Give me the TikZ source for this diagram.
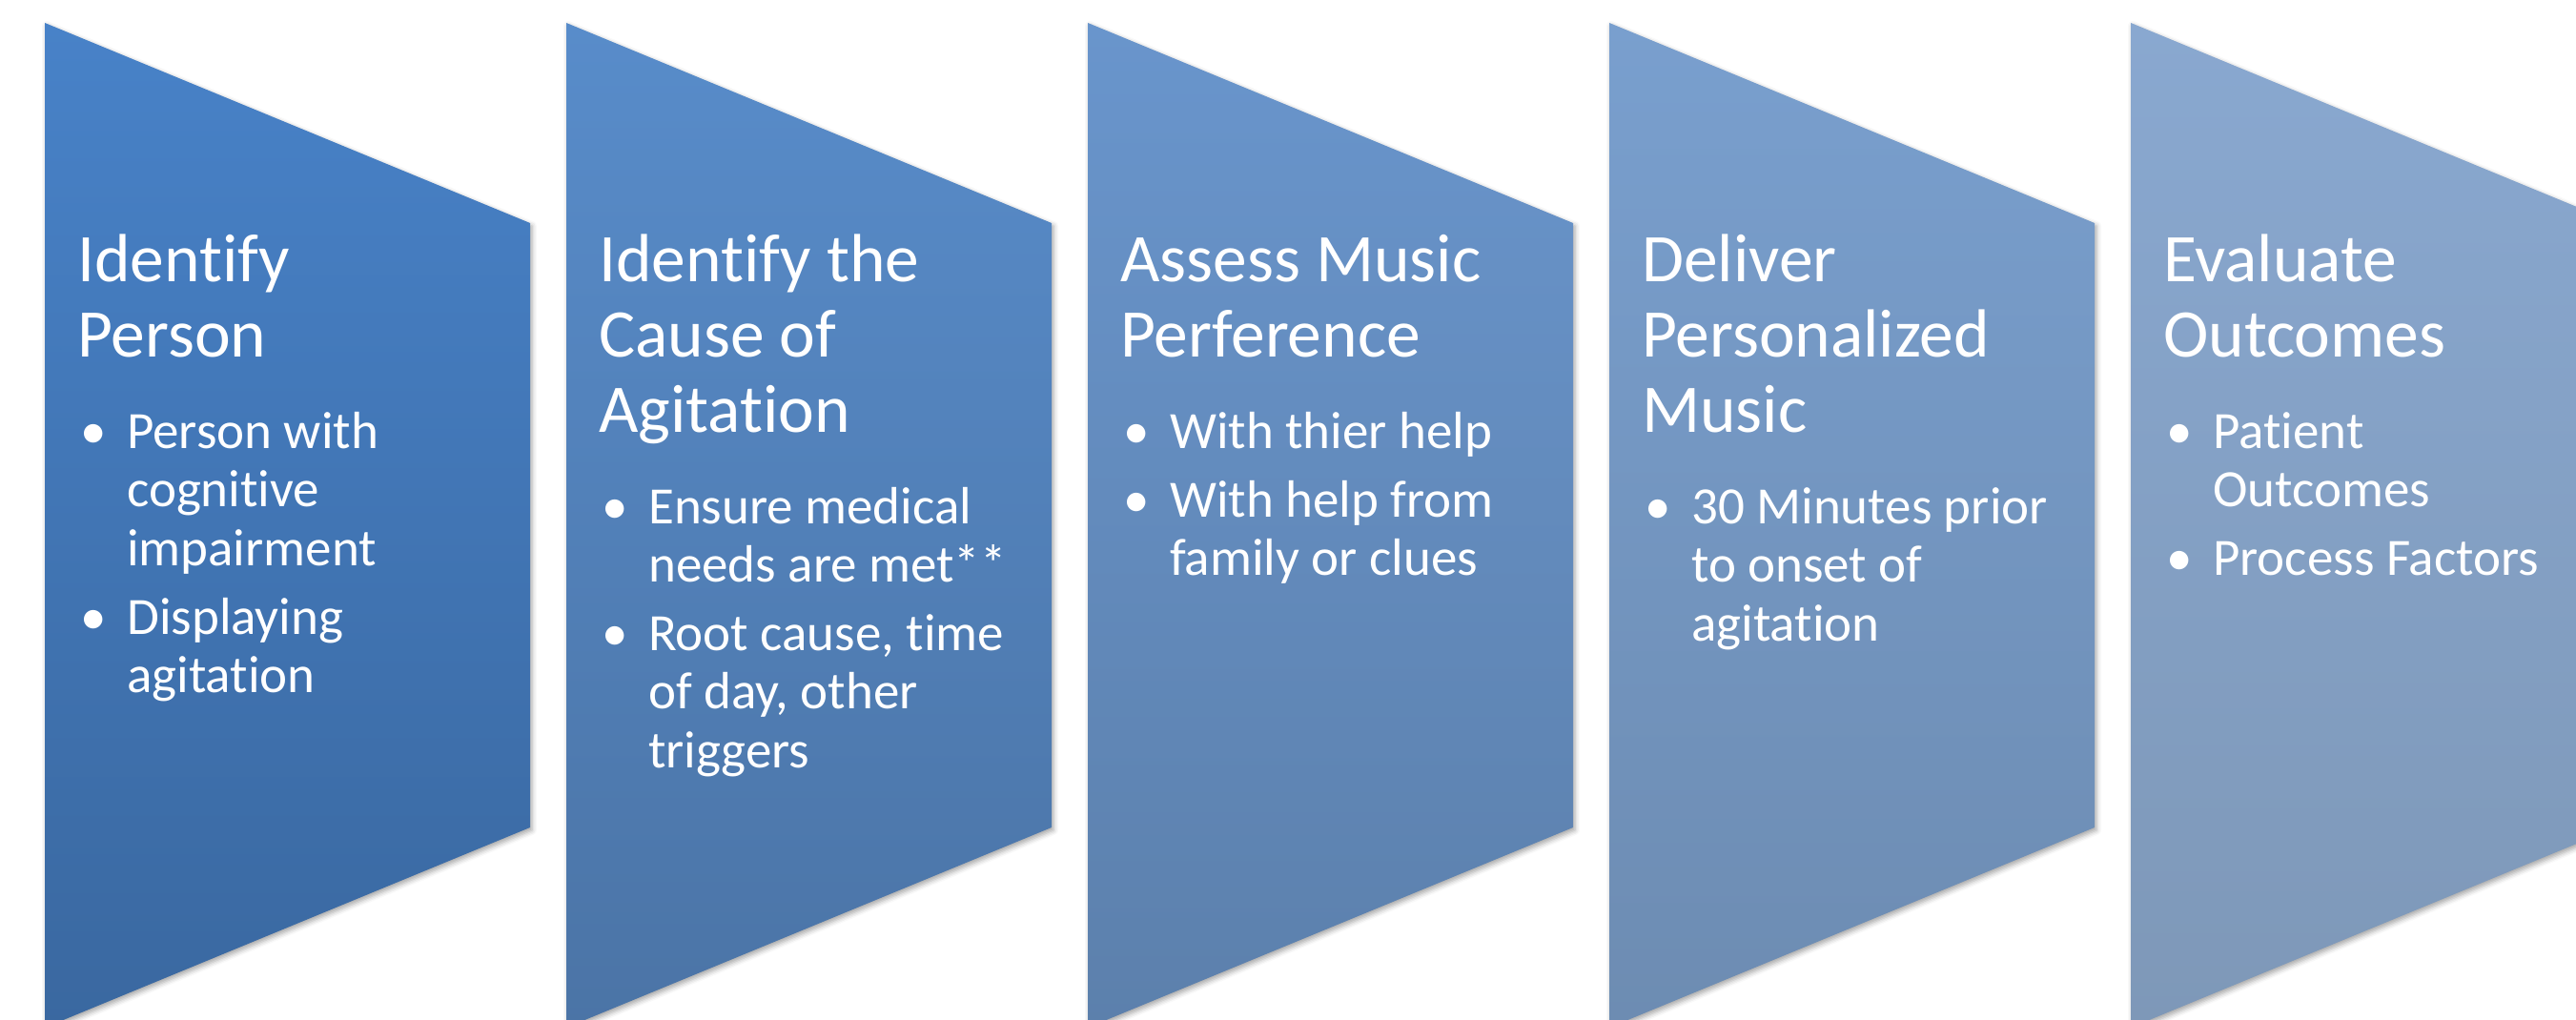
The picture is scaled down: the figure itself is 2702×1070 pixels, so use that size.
\documentclass[tikz,border=0pt]{standalone}
\usepackage{fontspec}
\setmainfont{Carlito}[Ligatures=NoCommon]
\usetikzlibrary{shadows.blur}

% stage colours, darker at the bottom of each chevron
\definecolor{s1top}{RGB}{72,130,200}   \definecolor{s1bot}{RGB}{58,104,160}
\definecolor{s2top}{RGB}{88,140,202}   \definecolor{s2bot}{RGB}{75,116,166}
\definecolor{s3top}{RGB}{105,149,204}  \definecolor{s3bot}{RGB}{92,128,172}
\definecolor{s4top}{RGB}{121,159,206}  \definecolor{s4bot}{RGB}{109,140,178}
\definecolor{s5top}{RGB}{137,168,208}  \definecolor{s5bot}{RGB}{126,152,184}

% one line of a stacked text block; the block's baseline is its first line
\newcommand\lin[1]{\hbox{#1}}

\begin{document}
\begin{tikzpicture}[x=1pt,y=-1pt,
  stagebox/.style={blur shadow={shadow xshift=2pt,shadow yshift=-3pt,
      shadow blur radius=5pt,shadow opacity=35}},
  titletext/.style={anchor=base west,inner sep=0pt,text=white,
      font=\fontsize{71.5}{79}\selectfont},
  itemtext/.style={anchor=base west,inner sep=0pt,text=white,
      font=\fontsize{55}{61.5}\selectfont},
  bulletmark/.style={anchor=base west,inner sep=0pt,text=white,
      font=\fontsize{55}{61.5}\selectfont}]

\useasboundingbox (0,0) rectangle (2702,1070);
\clip (0,0) rectangle (2702,1070);

% chevron shape with its left edge at x = #1
\newcommand\stageshape[3]{%
  \path[stagebox,top color=#2,bottom color=#3]
    (#1,24) -- ++(509,210) -- ++(0,634) -- ++(-509,210) -- cycle;}

\stageshape{47}{s1top}{s1bot}
\stageshape{594}{s2top}{s2bot}
\stageshape{1141}{s3top}{s3bot}
\stageshape{1688}{s4top}{s4bot}
\stageshape{2235}{s5top}{s5bot}

% stage 1
\node[titletext] (t1) at (81,295) {\vtop{\lin{Identify}\lin{Person}}};
\node[bulletmark] (d1a) at (84,470) {•};
\node[itemtext] (b1a) at (133,470) {\vtop{\lin{Person with}\lin{cognitive}\lin{impairment}}};
\node[bulletmark] (d1b) at (84,665) {•};
\node[itemtext] (b1b) at (133,665) {\vtop{\lin{Displaying}\lin{agitation}}};

% stage 2
\node[titletext] (t2) at (628,295) {\vtop{\lin{Identify the}\lin{Cause of}\lin{Agitation}}};
\node[bulletmark] (d2a) at (631,549) {•};
\node[itemtext] (b2a) at (680,549) {\vtop{\lin{Ensure medical}\lin{needs are met**}}};
\node[bulletmark] (d2b) at (631,682) {•};
\node[itemtext] (b2b) at (680,682) {\vtop{\lin{Root cause, time}\lin{of day, other}\lin{triggers}}};

% stage 3
\node[titletext] (t3) at (1175,295) {\vtop{\lin{Assess Music}\lin{Perference}}};
\node[bulletmark] (d3a) at (1178,470) {•};
\node[itemtext] (b3a) at (1227,470) {With thier help};
\node[bulletmark] (d3b) at (1178,542) {•};
\node[itemtext] (b3b) at (1227,542) {\vtop{\lin{With help from}\lin{family or clues}}};

% stage 4
\node[titletext] (t4) at (1722,295) {\vtop{\lin{Deliver}\lin{Personalized}\lin{Music}}};
\node[bulletmark] (d4a) at (1725,549) {•};
\node[itemtext] (b4a) at (1774,549) {\vtop{\lin{30 Minutes prior}\lin{to onset of}\lin{agitation}}};

% stage 5
\node[titletext] (t5) at (2269,295) {\vtop{\lin{Evaluate}\lin{Outcomes}}};
\node[bulletmark] (d5a) at (2272,470) {•};
\node[itemtext] (b5a) at (2321,470) {\vtop{\lin{Patient}\lin{Outcomes}}};
\node[bulletmark] (d5b) at (2272,603) {•};
\node[itemtext] (b5b) at (2321,603) {Process Factors};

\end{tikzpicture}
\end{document}
